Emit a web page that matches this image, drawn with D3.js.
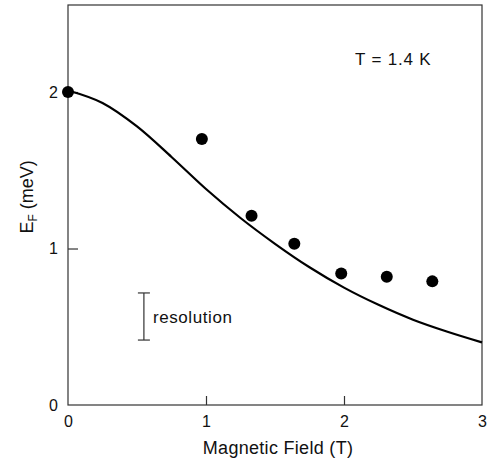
<!DOCTYPE html>
<html>
<head>
<meta charset="utf-8">
<script src="https://cdn.jsdelivr.net/npm/d3@7"></script>
<style>
  body { margin: 0; background: #fff; }
  text { font-family: "Liberation Sans", Arial, sans-serif; fill: #111; }
</style>
</head>
<body>
<div id="chart-area"></div>
<script>
// Data
const fieldPoints = [0, 0.97, 1.33, 1.64, 1.98, 2.31, 2.64]
const energyPoints = [2.0, 1.70, 1.21, 1.03, 0.84, 0.82, 0.79]

const fieldCurve = [0, 0.25, 0.5, 0.75, 1.0, 1.25, 1.5, 1.75, 2.0, 2.25, 2.5, 2.75, 3.0]
const energyCurve = [2.01, 1.93, 1.78, 1.585, 1.38, 1.195, 1.03, 0.88, 0.75, 0.64, 0.545, 0.468, 0.40]

const xTicks = [0, 1, 2, 3]
const yTicks = [0, 1, 2]
const resolutionBar = { x: 0.55, low: 0.415, high: 0.716 }

// Sizing
const MARGIN = { LEFT: 68, RIGHT: 11, TOP: 5, BOTTOM: 58 }
const WIDTH = 493 - MARGIN.LEFT - MARGIN.RIGHT
const HEIGHT = 463 - MARGIN.TOP - MARGIN.BOTTOM

const svg = d3.select('#chart-area').append('svg')
	.attr('width', 493)
	.attr('height', 463)

const g = svg.append('g')
	.attr('transform', `translate(${MARGIN.LEFT}, ${MARGIN.TOP})`)

const x = d3.scaleLinear()
	.domain([0, 3])
	.range([0, WIDTH])

const y = d3.scaleLinear()
	.domain([0, 2.556])
	.range([HEIGHT, 0])

// frame
g.append('rect')
	.attr('x', 0)
	.attr('y', 0)
	.attr('width', WIDTH)
	.attr('height', HEIGHT)
	.attr('fill', 'none')
	.attr('stroke', '#333')
	.attr('stroke-width', 1.2)

// axes with inward ticks
const xAxisGroup = g.append('g')
	.attr('transform', `translate(0, ${HEIGHT})`)
	.call(d3.axisBottom(x).tickValues(xTicks).tickSize(-9).tickPadding(16).tickFormat(d3.format('d')))
xAxisGroup.select('.domain').remove()
xAxisGroup.selectAll('.tick line').filter(d => d === 0 || d === 3).remove()

const yAxisGroup = g.append('g')
	.call(d3.axisLeft(y).tickValues(yTicks).tickSize(-10).tickPadding(10).tickFormat(d3.format('d')))
yAxisGroup.select('.domain').remove()
yAxisGroup.selectAll('.tick line').filter(d => d === 0).remove()

g.selectAll('.tick line').attr('stroke', '#333').attr('stroke-width', 1.2)
g.selectAll('.tick text')
	.attr('font-size', '16px')
	.attr('fill', '#111')
	.attr('font-family', '"Liberation Sans", Arial, sans-serif')
xAxisGroup.selectAll('.tick text').attr('dy', '0.35em')

// theory curve
const line = d3.line()
	.x(d => x(d[0]))
	.y(d => y(d[1]))
	.curve(d3.curveMonotoneX)

g.append('path')
	.datum(d3.zip(fieldCurve, energyCurve))
	.attr('d', line)
	.attr('fill', 'none')
	.attr('stroke', '#000')
	.attr('stroke-width', 2.2)

// measured points
g.selectAll('circle')
	.data(d3.zip(fieldPoints, energyPoints))
	.enter().append('circle')
	.attr('cx', d => x(d[0]))
	.attr('cy', d => y(d[1]))
	.attr('r', 6)
	.attr('fill', '#000')

// resolution bar
const bar = g.append('g').attr('stroke', '#333').attr('stroke-width', 1.2)
bar.append('line')
	.attr('x1', x(resolutionBar.x)).attr('x2', x(resolutionBar.x))
	.attr('y1', y(resolutionBar.low)).attr('y2', y(resolutionBar.high))
bar.selectAll('.cap')
	.data([resolutionBar.low, resolutionBar.high])
	.enter().append('line')
	.attr('x1', x(resolutionBar.x) - 6).attr('x2', x(resolutionBar.x) + 6)
	.attr('y1', d => y(d)).attr('y2', d => y(d))

g.append('text')
	.attr('x', x(resolutionBar.x) + 9)
	.attr('y', y((resolutionBar.low + resolutionBar.high) / 2) + 6)
	.attr('font-size', '17px')
	.attr('letter-spacing', '0.6px')
	.text('resolution')

// temperature label
g.append('text')
	.attr('x', 355 - MARGIN.LEFT)
	.attr('y', 65 - MARGIN.TOP)
	.attr('font-size', '17px')
	.attr('letter-spacing', '0.8px')
	.text('T = 1.4 K')

// x-axis label
g.append('text')
	.attr('x', WIDTH / 2 + 3)
	.attr('y', HEIGHT + 49)
	.attr('text-anchor', 'middle')
	.attr('font-size', '18px')
	.attr('letter-spacing', '0.3px')
	.text('Magnetic Field (T)')

// y-axis label
const yLabel = g.append('text')
	.attr('transform', `translate(-35, ${y(1.33)}) rotate(-90)`)
	.attr('text-anchor', 'middle')
	.attr('font-size', '18px')
yLabel.append('tspan').text('E')
yLabel.append('tspan').attr('font-size', '12px').attr('dy', '4').text('F')
yLabel.append('tspan').attr('dy', '-4').text(' (meV)')
</script>
</body>
</html>
